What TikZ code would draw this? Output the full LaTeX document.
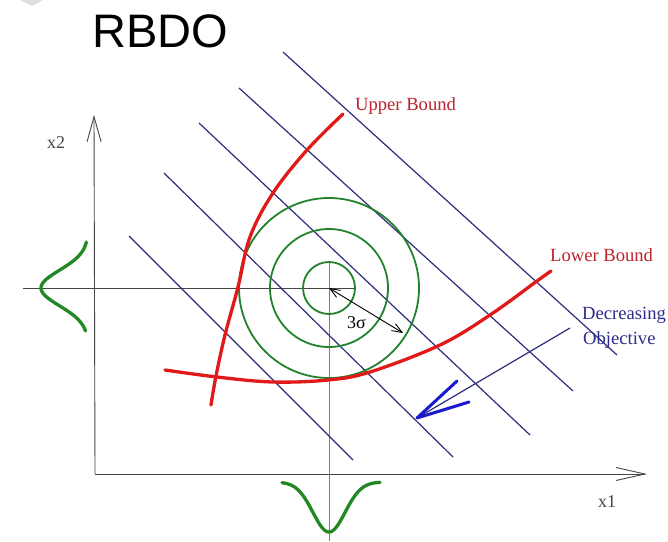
\documentclass[tikz,border=0pt]{standalone}
\usepackage{fontspec}
\setmainfont{Liberation Serif}
\newfontfamily\rbdofont{Liberation Sans}
\usetikzlibrary{arrows.meta}
\definecolor{navyline}{RGB}{45,45,125}
\definecolor{boundred}{RGB}{225,25,25}
\definecolor{labelred}{RGB}{190,35,45}
\definecolor{ringgreen}{RGB}{35,130,45}
\definecolor{gaussgreen}{RGB}{35,135,35}
\definecolor{axisgray}{RGB}{70,70,70}
\definecolor{crossgray}{RGB}{125,125,125}
\definecolor{headblue}{RGB}{25,25,205}
\definecolor{textnavy}{RGB}{45,45,140}
\tikzset{
  axisline/.style={draw=axisgray, line width=0.9pt},
  crossline/.style={line width=0.9pt},
  objline/.style={draw=navyline, line width=1.2pt},
  ring/.style={draw=ringgreen, line width=1.8pt},
  bound/.style={draw=boundred, line width=3.3pt, line cap=round},
  gauss/.style={draw=gaussgreen, line width=3.3pt, line cap=round},
  lbl/.style={inner sep=0pt, anchor=base west, font=\fontsize{18.6}{20}\selectfont},
}
\begin{document}
\begin{tikzpicture}[x=1pt,y=-1pt]
\useasboundingbox (0,0) rectangle (668,541);
\fill[white] (0,0) rectangle (668,541);
% small grey mark in the corner
\fill[black!13] (20,0) -- (43,0) -- (32,6) -- cycle;

% title
\node[inner sep=0pt, anchor=base west, font=\rbdofont\fontsize{47}{50}\selectfont] (title) at (92,47) {RBDO};

% coordinates
\coordinate (O) at (95,474);
\coordinate (xEnd) at (647,474);
\coordinate (yEnd) at (94,115);
\coordinate (ctr) at (329,288);
\coordinate (hL) at (23,288);
\coordinate (hR) at (354,288);
\coordinate (vT) at (329,263);
\coordinate (vB) at (329,541);

% axes
\draw[axisline, -{Straight Barb[length=29pt,width=13pt]}] (O) -- (xEnd);
\draw[axisline, -{Straight Barb[length=25pt,width=14pt]}] (O) -- (yEnd);
\node[lbl, text=axisgray, font=\fontsize{18}{20}\selectfont] (x2lbl) at (47,148) {x2};
\node[lbl, text=axisgray, font=\fontsize{18}{20}\selectfont] (x1lbl) at (598,507) {x1};

% crosshair
\draw[crossline, draw=axisgray] (hL) -- (hR);
\draw[crossline, draw=crossgray] (vT) -- (vB);

% objective contour lines
\coordinate (a1) at (129,236); \coordinate (b1) at (353,460);
\coordinate (a2) at (164,173); \coordinate (b2) at (453,457);
\coordinate (a3) at (199,123); \coordinate (b3) at (530,435);
\coordinate (a4) at (239,88);  \coordinate (b4) at (573,391);
\coordinate (a5) at (283,52);  \coordinate (b5) at (617,355);
\foreach \i in {1,...,5} { \draw[objline] (a\i) -- (b\i); }

% rings
\draw[ring] (ctr) circle[radius=26];
\draw[ring] (ctr) circle[radius=59];
\draw[ring] (ctr) circle[radius=90];

% 3 sigma
\coordinate (s3) at (403,333);
\draw[line width=0.9pt, {Straight Barb[length=10pt,width=8pt]}-{Straight Barb[length=10pt,width=8pt]}] (ctr) -- (s3);
\node[lbl, font=\fontsize{18}{20}\selectfont] (sig) at (347,328) {3σ};

% bounds
\draw[bound] plot[smooth, tension=0.6] coordinates {(343,114) (307,150) (273,193) (250,237) (238,287) (225,335) (216,376) (211,405)};
\draw[bound] plot[smooth, tension=0.6] coordinates {(165,370) (217,377) (273,382) (328,380) (370,372) (440,345) (490,315) (537,281) (551,271)};
\node[lbl, text=labelred] (ub) at (355,110) {Upper Bound};
\node[lbl, text=labelred] (lb) at (550,261) {Lower Bound};

% decreasing objective arrow
\coordinate (dS) at (570,328);
\coordinate (dT) at (417,418);
\coordinate (db1) at (457,381);
\coordinate (db2) at (469,402);
\draw[objline] (dS) -- (dT);
\draw[draw=headblue, line width=3pt, line cap=round, line join=round] (db1) -- (dT) -- (db2);
\node[lbl, text=textnavy] (dec) at (582,319) {Decreasing};
\node[lbl, text=textnavy] (obj) at (583,344) {Objective};

% gaussians
\draw[gauss] plot[domain=242:331, samples=80] ({88-47*exp(-((\x-288)^2)/633.7)}, {\x});
\draw[gauss] plot[domain=282:380, samples=80] ({\x}, {482+50*exp(-((\x-329)^2)/518)});
\end{tikzpicture}
\end{document}
